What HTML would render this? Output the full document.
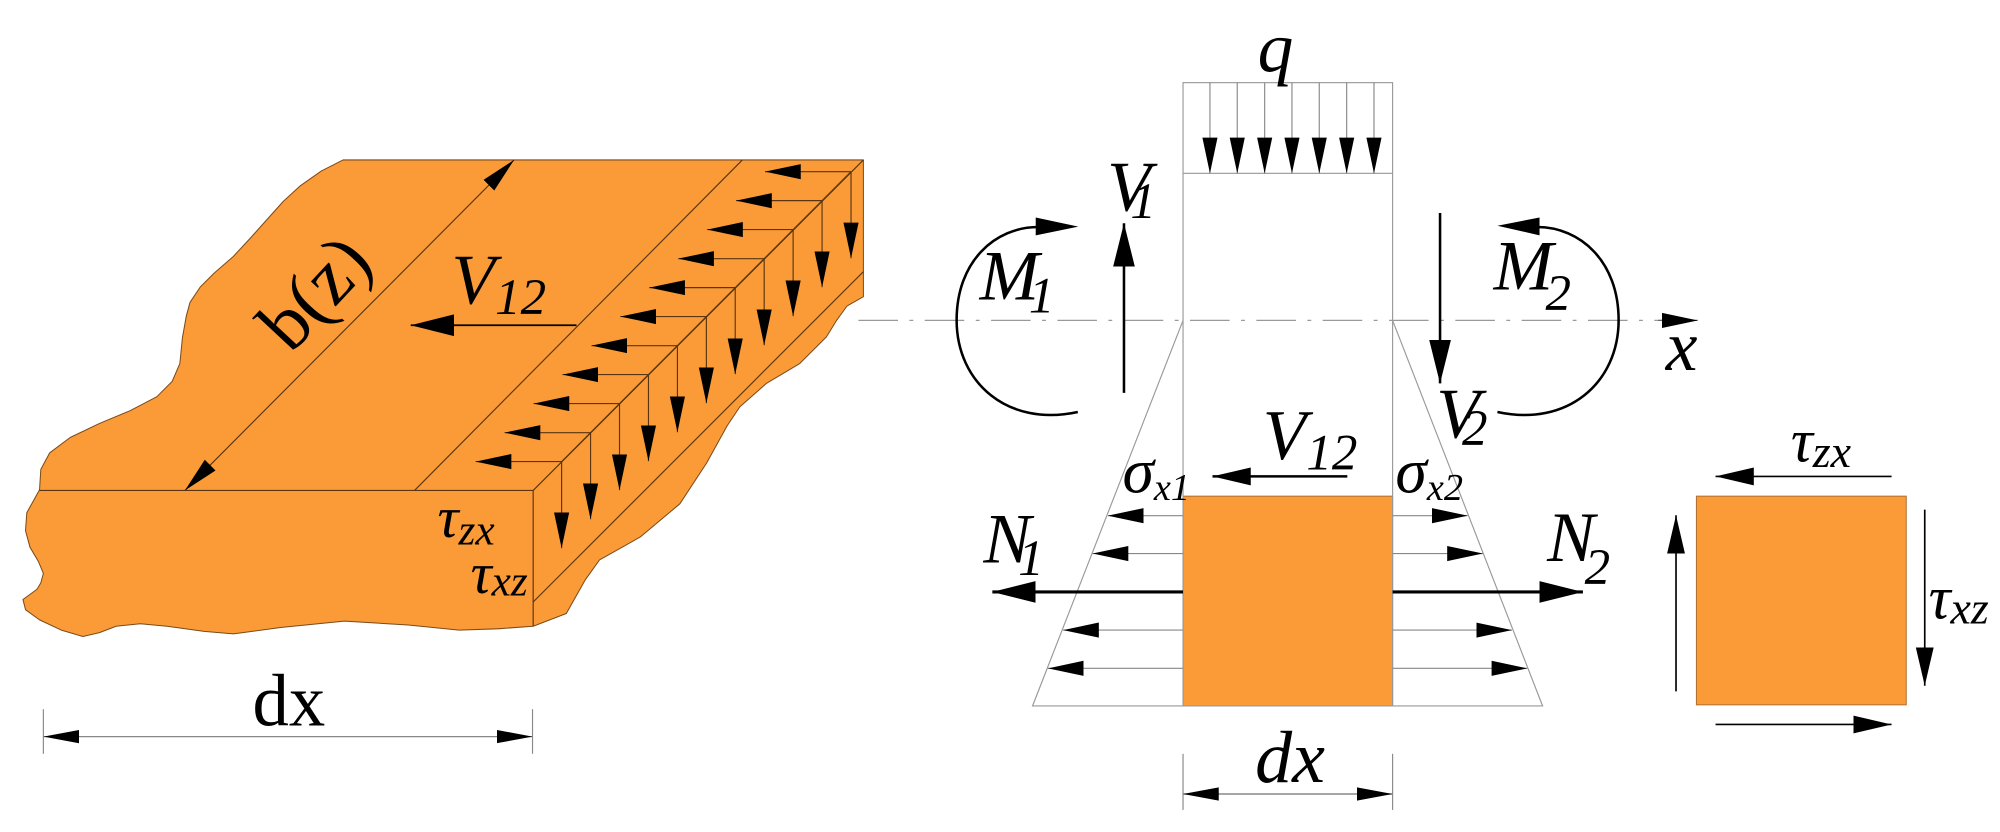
<!DOCTYPE html>
<html><head><meta charset="utf-8"><style>
html,body{margin:0;padding:0;background:#fff;}
svg{display:block;}
text{font-family:"Liberation Serif",serif;fill:#000;}
.it{font-style:italic;}
</style></head><body>
<svg width="2000" height="832" viewBox="0 0 1568 652.3" preserveAspectRatio="none" xmlns="http://www.w3.org/2000/svg">
<defs>
<marker id="a" markerUnits="userSpaceOnUse" markerWidth="28" markerHeight="14" viewBox="0 0 26 11" refX="26" refY="5.5" orient="auto-start-reverse"><path d="M0,0L26,5.5L0,11z"/></marker>
<marker id="b" markerUnits="userSpaceOnUse" markerWidth="34" markerHeight="18" viewBox="0 0 32 16" refX="32" refY="8" orient="auto-start-reverse"><path d="M0,0L32,8L0,16z"/></marker>
<marker id="c" markerUnits="userSpaceOnUse" markerWidth="28" markerHeight="14" viewBox="0 0 27 10" refX="27" refY="5" orient="auto-start-reverse"><path d="M0,0L27,5L0,10z"/></marker>
<marker id="d" markerUnits="userSpaceOnUse" markerWidth="30" markerHeight="16" viewBox="0 0 30 14" refX="30" refY="7" orient="auto-start-reverse"><path d="M0,0L30,7L0,14z"/></marker>
</defs>

<!-- LEFT BLOCK -->
<path d="M269,125.4 L676.9,125.4 L676.9,232.6 L664,240 L656,251 L648,264 L627,285 L601,300.5 L580,319 L570,334 L554,363 L533,395 L502,421 L470,439 L458.6,455 L444,481 L418,491 L390,493 L360,494 L320,490 L270,487 L220,492 L183,497 L160,495 L131,491 L110,489 L91,491 L78,496 L65,499 L48,494 L31,486 L20,478 L18,470 L29,462 L32,457 L34,449.5 L30,440 L23.5,429 L20,416 L21,402 L31,384 L32,368 L39,355 L55,343 L78,332 L102,322 L123,311 L135,299 L141,285 L143,265 L146,248 L149,237 L157,225 L168,214 L183,201 L196,187 L209,172.5 L222,158 L235,146 L252,134 Z" fill="#FA9B38" stroke="#7a4a1a" stroke-width="0.8" stroke-linejoin="round"/>
<g stroke="#5a3510" stroke-width="0.9" fill="none">
<line x1="31" y1="384.5" x2="418" y2="384.5"/>
<line x1="418" y1="384.5" x2="418" y2="491"/>
<line x1="418" y1="384.5" x2="676.9" y2="125.4"/>
<line x1="418" y1="472" x2="676.9" y2="213"/>
<line x1="582" y1="125.4" x2="325" y2="384.5"/>
<line x1="667.2" y1="134.6" x2="440.3" y2="361.9"/>
</g>
<line x1="403" y1="125.4" x2="145" y2="384.5" stroke="#5a3510" stroke-width="0.9" marker-start="url(#a)" marker-end="url(#a)"/>
<g stroke="#5a3510" stroke-width="0.9" marker-end="url(#a)">
<line x1="667.2" y1="134.6" x2="599.8" y2="134.6"/><line x1="667.2" y1="134.6" x2="667.2" y2="202.5"/>
<line x1="644.5" y1="157.3" x2="577.1" y2="157.3"/><line x1="644.5" y1="157.3" x2="644.5" y2="225.2"/>
<line x1="621.8" y1="180" x2="554.4" y2="180"/><line x1="621.8" y1="180" x2="621.8" y2="247.9"/>
<line x1="599.1" y1="202.8" x2="531.7" y2="202.8"/><line x1="599.1" y1="202.8" x2="599.1" y2="270.7"/>
<line x1="576.4" y1="225.5" x2="509" y2="225.5"/><line x1="576.4" y1="225.5" x2="576.4" y2="293.4"/>
<line x1="553.8" y1="248.2" x2="486.4" y2="248.2"/><line x1="553.8" y1="248.2" x2="553.8" y2="316.1"/>
<line x1="531.1" y1="271" x2="463.7" y2="271"/><line x1="531.1" y1="271" x2="531.1" y2="338.9"/>
<line x1="508.4" y1="293.7" x2="441" y2="293.7"/><line x1="508.4" y1="293.7" x2="508.4" y2="361.6"/>
<line x1="485.7" y1="316.4" x2="418.3" y2="316.4"/><line x1="485.7" y1="316.4" x2="485.7" y2="384.3"/>
<line x1="463" y1="339.2" x2="395.6" y2="339.2"/><line x1="463" y1="339.2" x2="463" y2="407.1"/>
<line x1="440.3" y1="361.9" x2="372.9" y2="361.9"/><line x1="440.3" y1="361.9" x2="440.3" y2="429.8"/>
</g>
<line x1="452" y1="255" x2="322" y2="255" stroke="#000" stroke-width="1.4" marker-end="url(#b)"/>
<text class="it" x="354" y="238" font-size="56">V<tspan font-size="40" dy="8">12</tspan></text>
<text x="0" y="0" font-size="60" transform="translate(228,278) rotate(-47)">b(z)</text>
<text class="it" x="343" y="421" font-size="46">τ<tspan font-size="34" dy="6">zx</tspan></text>
<text class="it" x="369" y="465" font-size="46">τ<tspan font-size="34" dy="2">xz</tspan></text>
<g stroke="#888" stroke-width="0.9"><line x1="34" y1="556" x2="34" y2="591"/><line x1="417.5" y1="556" x2="417.5" y2="591"/></g>
<line x1="34" y1="577.5" x2="417.5" y2="577.5" stroke="#888" stroke-width="1" marker-start="url(#c)" marker-end="url(#c)"/>
<text x="198" y="569" font-size="58" textLength="57" lengthAdjust="spacingAndGlyphs">dx</text>

<!-- MIDDLE -->
<line x1="673" y1="251.2" x2="1312" y2="251.2" stroke="#999" stroke-width="1" stroke-dasharray="31 9 3 9"/>
<line x1="1300" y1="251.2" x2="1331" y2="251.2" stroke="#666" stroke-width="1" marker-end="url(#a)"/>
<text class="it" x="1306" y="290" font-size="56">x</text>

<rect x="927.5" y="389" width="164.3" height="164.5" fill="#FA9B38" stroke="#b07030" stroke-width="0.8"/>
<g stroke="#999" stroke-width="0.9" fill="none">
<rect x="927.5" y="64.8" width="164.3" height="71.1"/>
<line x1="927.5" y1="135.9" x2="927.5" y2="553.5"/>
<line x1="1091.8" y1="135.9" x2="1091.8" y2="553.5"/>
<polyline points="927.5,251.2 809.5,553.5 1209.4,553.5 1091.8,251.2"/>
</g>
<g stroke="#888" stroke-width="0.9" marker-end="url(#a)">
<line x1="948.6" y1="64.8" x2="948.6" y2="135.9"/><line x1="970" y1="64.8" x2="970" y2="135.9"/>
<line x1="991.5" y1="64.8" x2="991.5" y2="135.9"/><line x1="1012.9" y1="64.8" x2="1012.9" y2="135.9"/>
<line x1="1034.3" y1="64.8" x2="1034.3" y2="135.9"/><line x1="1055.8" y1="64.8" x2="1055.8" y2="135.9"/>
<line x1="1077.2" y1="64.8" x2="1077.2" y2="135.9"/>
<line x1="927.5" y1="404.3" x2="868.6" y2="404.3"/><line x1="927.5" y1="434" x2="856.6" y2="434"/>
<line x1="927.5" y1="494" x2="833.5" y2="494"/><line x1="927.5" y1="524" x2="821.5" y2="524"/>
<line x1="1091.8" y1="404.3" x2="1150.6" y2="404.3"/><line x1="1091.8" y1="434" x2="1162.6" y2="434"/>
<line x1="1091.8" y1="494" x2="1185.4" y2="494"/><line x1="1091.8" y1="524" x2="1197.4" y2="524"/>
</g>
<text class="it" x="986" y="56" font-size="56">q</text>

<line x1="881.2" y1="308" x2="881.2" y2="175" stroke="#000" stroke-width="2" marker-end="url(#b)"/>
<text class="it" x="868" y="165" font-size="56">V<tspan font-size="40" dx="-16" dy="6">1</tspan></text>
<path d="M845,323 C790,335 750,300 750,251 C750,205 780,178 814,178" fill="none" stroke="#000" stroke-width="2"/>
<path d="M812,170.5 L845.4,177.7 L812,184.5z"/>
<text class="it" x="768" y="235" font-size="56">M<tspan font-size="40" dx="-8" dy="10">1</tspan></text>

<line x1="1129" y1="167" x2="1129" y2="300.6" stroke="#000" stroke-width="2" marker-end="url(#b)"/>
<text class="it" x="1126" y="343" font-size="56">V<tspan font-size="40" dx="-14" dy="6">2</tspan></text>
<path d="M1174,323 C1229,335 1269,300 1269,251 C1269,205 1239,178 1205,178" fill="none" stroke="#000" stroke-width="2"/>
<path d="M1207,170.5 L1174,177 L1207,184.5z"/>
<text class="it" x="1171" y="227" font-size="56">M<tspan font-size="40" dx="-6" dy="16">2</tspan></text>

<line x1="1056.3" y1="373.5" x2="950.6" y2="373.5" stroke="#000" stroke-width="2" marker-end="url(#d)"/>
<text class="it" x="990" y="360" font-size="56">V<tspan font-size="40" dy="8">12</tspan></text>
<text class="it" x="880" y="386" font-size="50">σ<tspan font-size="30" dy="6">x1</tspan></text>
<text class="it" x="1094" y="386" font-size="50">σ<tspan font-size="30" dy="6">x2</tspan></text>

<line x1="927.5" y1="464.1" x2="778" y2="464.1" stroke="#000" stroke-width="2.4" marker-end="url(#b)"/>
<line x1="1091.8" y1="464.1" x2="1241" y2="464.1" stroke="#000" stroke-width="2.4" marker-end="url(#b)"/>
<text class="it" x="771" y="441" font-size="56">N<tspan font-size="40" dx="-10" dy="10">1</tspan></text>
<text class="it" x="1213" y="440" font-size="56">N<tspan font-size="40" dx="-8" dy="18">2</tspan></text>

<g stroke="#888" stroke-width="0.9"><line x1="927.5" y1="591" x2="927.5" y2="635"/><line x1="1091.8" y1="591" x2="1091.8" y2="635"/></g>
<line x1="927.5" y1="622.5" x2="1091.8" y2="622.5" stroke="#888" stroke-width="1.2" marker-start="url(#c)" marker-end="url(#c)"/>
<text class="it" x="984" y="613" font-size="58">dx</text>

<!-- RIGHT SQUARE -->
<rect x="1330" y="389" width="164.5" height="163.6" fill="#FA9B38" stroke="#b07030" stroke-width="0.8"/>
<g stroke="#000" stroke-width="1.3" marker-end="url(#d)">
<line x1="1483" y1="373.5" x2="1345" y2="373.5"/>
<line x1="1314" y1="542" x2="1314" y2="404"/>
<line x1="1509" y1="399.6" x2="1509" y2="537.6"/>
<line x1="1345" y1="568" x2="1483" y2="568"/>
</g>
<text class="it" x="1404" y="362" font-size="48">τ<tspan font-size="36" dy="4">zx</tspan></text>
<text class="it" x="1512" y="485" font-size="48">τ<tspan font-size="36" dy="4">xz</tspan></text>
</svg>
</body></html>
